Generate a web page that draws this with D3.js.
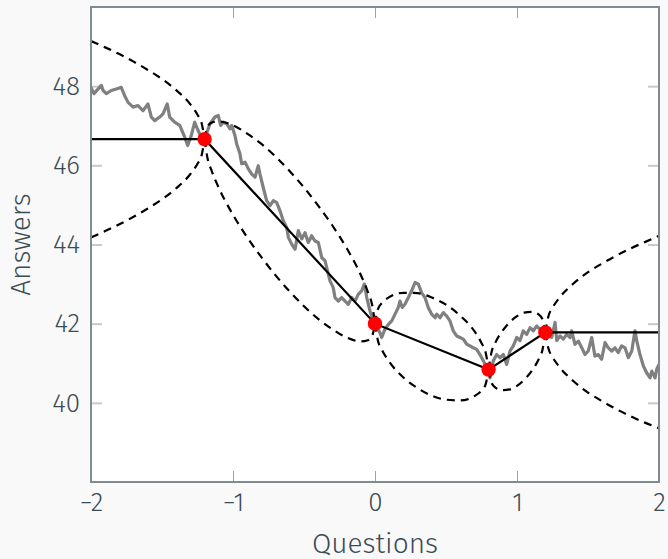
<!DOCTYPE html>
<html>
  <head>
    <meta http-equiv="Content-Type" content="text/html;charset=utf-8">
    <title>Answers vs Questions</title>
    <script src="https://d3js.org/d3.v7.min.js"></script>
    <style>
      html, body {
        margin: 0;
        padding: 0;
        background: #f9f9f9;
      }
      svg text {
        font-family: "Fira Sans", "Open Sans", "Lato", sans-serif;
        font-weight: 300;
        fill: #3b4c54;
      }
      .band {
        stroke: #000;
        stroke-width: 2.2px;
        stroke-dasharray: 8 6;
        fill: none;
      }
    </style>
  </head>
  <body>
    <script type="text/javascript">

// observed points
var obsX = [-1.2, 0, 0.8, 1.2];
var obsY = [46.66, 42.00, 40.84, 41.78];

// grey sample path
var walkX = [-2.000, -1.979, -1.927, -1.915, -1.892, -1.857, -1.822, -1.787, -1.763, -1.739,
  -1.704, -1.669, -1.634, -1.599, -1.575, -1.551, -1.516, -1.493, -1.463, -1.446,
  -1.411, -1.375, -1.340, -1.319, -1.294, -1.270, -1.246, -1.223, -1.200,
  -1.162, -1.127, -1.104, -1.087, -1.068, -1.044, -1.021, -1.009, -0.986, -0.974,
  -0.951, -0.939, -0.915, -0.892, -0.868, -0.845, -0.822, -0.810, -0.787, -0.763,
  -0.739, -0.716, -0.692, -0.669, -0.646, -0.622, -0.610, -0.587, -0.563, -0.540,
  -0.516, -0.493, -0.470, -0.446, -0.423, -0.399,
  -0.375, -0.352, -0.329, -0.317, -0.294, -0.282, -0.258, -0.235, -0.211, -0.188,
  -0.164, -0.141, -0.118, -0.094, -0.075, -0.058, -0.035, -0.012, 0.000,
  0.035, 0.047, 0.070, 0.094, 0.118, 0.141, 0.164, 0.176, 0.192, 0.211,
  0.235, 0.258, 0.282, 0.305, 0.329, 0.352, 0.375, 0.399, 0.423,
  0.435, 0.458, 0.481, 0.505, 0.528, 0.551, 0.575, 0.599, 0.622, 0.646,
  0.669, 0.692, 0.716, 0.739, 0.763, 0.787, 0.800,
  0.810, 0.833, 0.857, 0.880, 0.904, 0.927, 0.951, 0.974, 0.998, 1.021,
  1.044, 1.068, 1.092, 1.115, 1.139, 1.162, 1.200,
  1.244, 1.268, 1.280, 1.303, 1.326, 1.350, 1.373, 1.385, 1.408, 1.432,
  1.456, 1.479, 1.502, 1.526, 1.549, 1.573, 1.596, 1.620, 1.643, 1.667,
  1.690, 1.713, 1.737, 1.761, 1.784, 1.808, 1.831, 1.843, 1.866, 1.890,
  1.913, 1.937, 1.949, 1.972, 1.984, 2.000];
var walkY = [47.97, 47.81, 48.02, 47.89, 47.81, 47.89, 47.93, 47.97, 47.76, 47.59,
  47.47, 47.51, 47.38, 47.55, 47.22, 47.13, 47.22, 47.30, 47.55, 47.22,
  47.09, 47.01, 46.71, 46.50, 46.75, 47.09, 46.88, 46.71, 46.66,
  47.05, 47.22, 47.26, 47.01, 47.09, 47.05, 46.92, 47.01, 46.75, 46.54,
  46.29, 46.04, 46.08, 45.91, 45.78, 45.70, 45.99, 45.78, 45.44, 45.11,
  44.98, 45.11, 45.06, 44.85, 44.60, 44.43, 44.18, 44.01, 43.88, 44.35,
  44.14, 44.30, 44.05, 44.22, 44.09, 44.05,
  43.67, 43.59, 43.25, 43.08, 42.91, 42.66, 42.57, 42.66, 42.57, 42.49,
  42.66, 42.57, 42.74, 42.83, 43.00, 42.66, 42.32, 42.07, 42.00,
  41.77, 41.65, 41.86, 41.98, 42.07, 42.24, 42.41, 42.57, 42.41, 42.49,
  42.66, 42.83, 43.04, 43.00, 42.78, 42.66, 42.41, 42.24, 42.15,
  42.24, 42.15, 42.28, 42.19, 42.07, 41.82, 41.69, 41.65, 41.61, 41.48,
  41.44, 41.39, 41.35, 41.22, 41.06, 40.89, 40.84,
  40.63, 41.06, 41.22, 41.14, 41.22, 40.97, 41.31, 41.44, 41.65, 41.57,
  41.82, 41.73, 41.90, 41.82, 41.94, 41.86, 41.78,
  41.65, 42.03, 41.57, 41.69, 41.61, 41.73, 41.65, 41.82, 41.48, 41.56,
  41.39, 41.22, 41.31, 41.65, 41.18, 41.22, 41.10, 41.52, 41.39, 41.31,
  41.39, 41.27, 41.44, 41.39, 41.14, 41.31, 41.82, 41.57, 41.22, 40.93,
  40.76, 40.63, 40.80, 40.63, 40.85, 40.97];

// dashed band, one piece per interval
var bandX = [
  [-2, -1.9, -1.8, -1.7, -1.6, -1.5, -1.4, -1.3, -1.25, -1.22, -1.2],
  [-1.2, -1.18, -1.15, -1.1, -1.0, -0.9, -0.8, -0.7, -0.6, -0.5, -0.4, -0.3, -0.2, -0.1, -0.05, -0.02, 0],
  [0, 0.02, 0.05, 0.1, 0.2, 0.3, 0.4, 0.5, 0.6, 0.7, 0.75, 0.78, 0.8],
  [0.8, 0.82, 0.85, 0.9, 0.95, 1.0, 1.05, 1.1, 1.15, 1.18, 1.2],
  [1.2, 1.22, 1.25, 1.3, 1.4, 1.5, 1.6, 1.7, 1.8, 1.9, 2.0]
];
var bandHi = [
  [49.14, 48.98, 48.81, 48.62, 48.41, 48.18, 47.90, 47.54, 47.28, 47.05, 46.66],
  [46.66, 46.97, 47.08, 47.11, 47.01, 46.80, 46.54, 46.22, 45.85, 45.44, 44.98, 44.48, 43.91, 43.23, 42.80, 42.47, 42.00],
  [42.00, 42.36, 42.53, 42.67, 42.78, 42.77, 42.66, 42.48, 42.20, 41.81, 41.51, 41.26, 40.84],
  [40.84, 41.27, 41.54, 41.83, 42.04, 42.19, 42.28, 42.30, 42.24, 42.11, 41.78],
  [41.78, 42.17, 42.40, 42.66, 43.02, 43.30, 43.52, 43.72, 43.90, 44.06, 44.22]
];
var bandLo = [
  [44.18, 44.34, 44.51, 44.70, 44.91, 45.14, 45.42, 45.78, 46.04, 46.27, 46.66],
  [46.66, 46.19, 45.86, 45.43, 44.75, 44.18, 43.68, 43.22, 42.81, 42.44, 42.12, 41.86, 41.65, 41.55, 41.58, 41.69, 42.00],
  [42.00, 41.58, 41.33, 41.04, 40.64, 40.37, 40.18, 40.08, 40.06, 40.17, 40.31, 40.48, 40.84],
  [40.84, 40.51, 40.38, 40.32, 40.34, 40.43, 40.58, 40.79, 41.08, 41.35, 41.78],
  [41.78, 41.39, 41.16, 40.90, 40.54, 40.26, 40.04, 39.84, 39.66, 39.50, 39.36]
];

var xTicks = [-2, -1, 0, 1, 2];
var yTicks = [40, 42, 44, 46, 48];

var W = 668, H = 559;
var margin = {top: 7, right: 9, bottom: 77, left: 91};
var width = W - margin.left - margin.right,
    height = H - margin.top - margin.bottom;

var svg = d3.select("body").append("svg")
    .attr("width", W)
    .attr("height", H);

var g = svg.append("g")
    .attr("transform", "translate(" + margin.left + "," + margin.top + ")");

var x = d3.scaleLinear().domain([-2, 2]).range([0, width]);
var y = d3.scaleLinear().domain([38, 50]).range([height, 0]);

g.append("rect")
    .attr("width", width)
    .attr("height", height)
    .attr("fill", "#fff");

g.append("clipPath").attr("id", "clip")
  .append("rect")
    .attr("width", width)
    .attr("height", height);

// ticks, pointing inward
function styleAxis(sel, col, w) {
  sel.select(".domain").remove();
  sel.selectAll(".tick line").attr("stroke", col).attr("stroke-width", w);
  sel.selectAll(".tick text").attr("fill", null).style("font-size", "26px");
}

g.append("g")
    .attr("transform", "translate(0," + height + ")")
    .call(d3.axisBottom(x).tickValues(xTicks).tickSize(-11).tickPadding(11).tickFormat(d3.format("")))
    .call(styleAxis, "#9aa3a6", 1);

g.append("g")
    .call(d3.axisTop(x).tickValues(xTicks).tickSize(-11).tickFormat(""))
    .call(styleAxis, "#9aa3a6", 1);

g.append("g")
    .call(d3.axisLeft(y).tickValues(yTicks).tickSize(-11).tickPadding(11))
    .call(styleAxis, "#c6c9ca", 2);

g.append("g")
    .attr("transform", "translate(" + width + ",0)")
    .call(d3.axisLeft(y).tickValues(yTicks).tickSize(11).tickFormat(""))
    .call(styleAxis, "#c6c9ca", 2);

var plot = g.append("g").attr("clip-path", "url(#clip)");

var line = d3.line()
    .x(function(d) { return x(d[0]); })
    .y(function(d) { return y(d[1]); });

// grey sample path
var walk = walkX.map(function(v, i) { return [v, walkY[i]]; });
plot.append("path")
    .attr("d", line(walk))
    .attr("fill", "none")
    .attr("stroke", "#808080")
    .attr("stroke-width", 3.2)
    .attr("stroke-linejoin", "round");

// dashed band
var bandLine = d3.line()
    .x(function(d) { return x(d[0]); })
    .y(function(d) { return y(d[1]); })
    .curve(d3.curveMonotoneX);

bandX.forEach(function(xs, k) {
  [bandHi[k], bandLo[k]].forEach(function(ys) {
    plot.append("path")
        .attr("class", "band")
        .attr("d", bandLine(xs.map(function(v, i) { return [v, ys[i]]; })));
  });
});

// mean line through the observations, flat beyond them
var mean = [[x.domain()[0], obsY[0]]]
    .concat(obsX.map(function(v, i) { return [v, obsY[i]]; }))
    .concat([[x.domain()[1], obsY[obsY.length - 1]]]);
plot.append("path")
    .attr("d", line(mean))
    .attr("fill", "none")
    .attr("stroke", "#000")
    .attr("stroke-width", 2.2);

plot.selectAll("circle")
    .data(obsX)
  .enter().append("circle")
    .attr("cx", function(d) { return x(d); })
    .attr("cy", function(d, i) { return y(obsY[i]); })
    .attr("r", 7.2)
    .attr("fill", "#ff0000");

// frame
g.append("rect")
    .attr("width", width)
    .attr("height", height)
    .attr("fill", "none")
    .attr("stroke", "#7f8c8f")
    .attr("stroke-width", 2);

// axis titles
svg.append("text")
    .attr("x", margin.left + width / 2)
    .attr("y", 553)
    .attr("text-anchor", "middle")
    .style("font-size", "28px")
    .text("Questions");

svg.append("text")
    .attr("transform", "translate(30," + (margin.top + height / 2) + ") rotate(-90)")
    .attr("text-anchor", "middle")
    .style("font-size", "28px")
    .text("Answers");

    </script>
  </body>
</html>
